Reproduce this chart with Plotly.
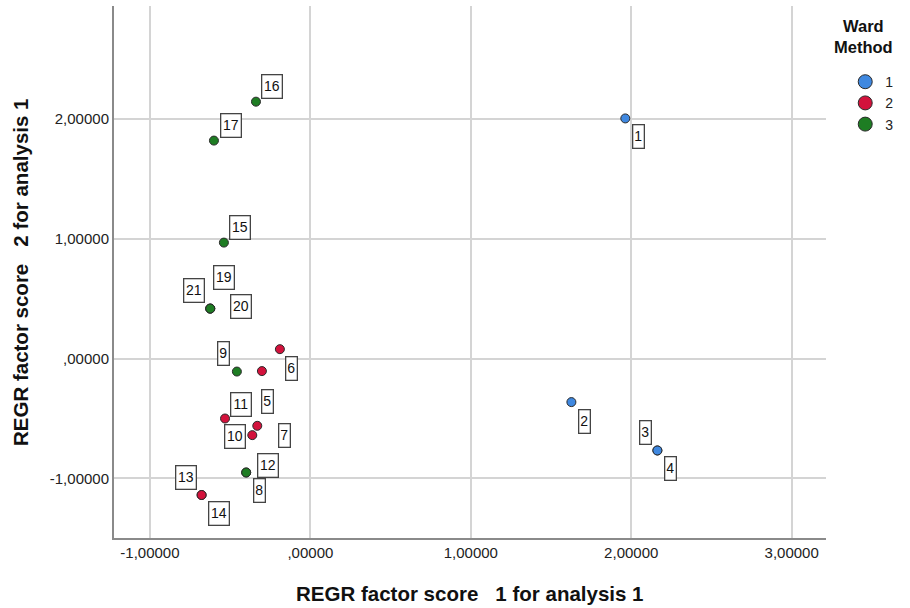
import plotly.graph_objects as go

# ---- data ----
case_ids = ["1", "2", "3", "4", "5", "6", "7", "8", "9", "10", "11",
            "12", "13", "14", "15", "16", "17", "19", "20", "21"]
score1 = [1.963, 1.627, 2.163, 2.163, -0.302, -0.190, -0.331, -0.400, -0.458, -0.362, -0.532,
          -0.400, -0.678, -0.678, -0.539, -0.339, -0.601, -0.624, -0.624, -0.624]
score2 = [2.006, -0.363, -0.767, -0.767, -0.104, 0.079, -0.561, -0.951, -0.108, -0.639, -0.500,
          -0.951, -1.139, -1.139, 0.969, 2.146, 1.821, 0.418, 0.418, 0.418]
cluster = [1, 1, 1, 1, 2, 2, 2, 3, 3, 2, 2,
           3, 2, 2, 3, 3, 3, 3, 3, 3]

cluster_names = ["1", "2", "3"]
tick_vals_x = [-1, 0, 1, 2, 3]
tick_text_x = ["-1,00000", ",00000", "1,00000", "2,00000", "3,00000"]
tick_vals_y = [-1, 0, 1, 2]
tick_text_y = ["-1,00000", ",00000", "1,00000", "2,00000"]
x_title = "REGR factor score\u00a0\u00a0\u00a01 for analysis 1"
y_title = "REGR factor score\u00a0\u00a0\u00a02 for analysis 1"
legend_title = "Ward<br>Method"

# ---- styles ----
FONT = "Liberation Sans, Arial, sans-serif"
colors = {1: "#3f88e0", 2: "#d3123c", 3: "#1e7d23"}
# pixel offsets of each case label box relative to its point (layout only)
label_offsets = {
    "1": (13, 18), "2": (13, 19), "3": (-12, -18), "4": (13, 18),
    "5": (6, 30), "6": (12, 19), "7": (27, 10), "8": (13, 18),
    "9": (-13, -18), "10": (-17, 1), "11": (16, -14), "12": (22, -7),
    "13": (-16, -18), "14": (17, 18), "15": (16, -15), "16": (16, -15),
    "17": (17, -15), "19": (14, -31), "20": (31, -2), "21": (-16, -18),
}

fig = go.Figure()

for c in [1, 2, 3]:
    xs = [x for x, k in zip(score1, cluster) if k == c]
    ys = [y for y, k in zip(score2, cluster) if k == c]
    fig.add_trace(go.Scatter(
        x=xs, y=ys, mode="markers", showlegend=False,
        marker=dict(size=9, color=colors[c], line=dict(color="#2a2a2a", width=1)),
        hoverinfo="x+y",
    ))

# legend entries (bigger symbols, as in the reference)
for c, name in zip([1, 2, 3], cluster_names):
    fig.add_trace(go.Scatter(
        x=[None], y=[None], mode="markers", name=name, showlegend=True,
        marker=dict(size=14, color=colors[c], line=dict(color="#2a2a2a", width=1)),
    ))

annotations = []
for cid, x, y in zip(case_ids, score1, score2):
    dx, dy = label_offsets[cid]
    annotations.append(dict(
        x=x, y=y, xref="x", yref="y", text=cid, showarrow=False,
        xshift=dx, yshift=-dy,
        font=dict(family=FONT, size=14, color="#111"),
        bgcolor="white", bordercolor="#444444", borderwidth=1.3, borderpad=1,
        width=8 if len(cid) == 1 else 17, height=20,
    ))

# legend title
annotations.append(dict(
    x=1.0523, y=0.9825, xref="paper", yref="paper", xanchor="center", yanchor="top",
    text="<b>" + legend_title.replace("<br>", "</b><br><b>") + "</b>",
    showarrow=False, align="center",
    font=dict(family=FONT, size=16.5, color="#111"),
))
# axis titles
annotations.append(dict(
    x=0.5, y=-0.1034, xref="paper", yref="paper", xanchor="center", yanchor="middle",
    text="<b>" + x_title + "</b>", showarrow=False,
    font=dict(family=FONT, size=20.5, color="#111"),
))
annotations.append(dict(
    x=-0.132, y=0.5, xref="paper", yref="paper", xanchor="center", yanchor="middle",
    text="<b>" + y_title + "</b>", showarrow=False, textangle=-90,
    font=dict(family=FONT, size=20.5, color="#111"),
))

fig.update_layout(
    width=910, height=608,
    margin=dict(l=114, r=84, t=6, b=70),
    plot_bgcolor="white", paper_bgcolor="white",
    font=dict(family=FONT, color="#222"),
    annotations=annotations,
    legend=dict(
        x=1.027, y=0.887, xanchor="left", yanchor="top",
        font=dict(family=FONT, size=14, color="#222"),
        itemwidth=30, tracegroupgap=0,
        bgcolor="rgba(0,0,0,0)",
    ),
    xaxis=dict(
        range=[-1.224, 3.214], tickvals=tick_vals_x, ticktext=tick_text_x,
        showgrid=True, gridcolor="#d4d4d4", gridwidth=1.5,
        zeroline=False, showline=True, linecolor="#8a8a8a", linewidth=2,
        ticks="", tickfont=dict(family=FONT, size=15, color="#222"),
        automargin=False,
    ),
    yaxis=dict(
        range=[-1.498, 2.945], tickvals=tick_vals_y, ticktext=tick_text_y,
        showgrid=True, gridcolor="#d4d4d4", gridwidth=1.5,
        zeroline=False, showline=True, linecolor="#8a8a8a", linewidth=2,
        ticks="", tickfont=dict(family=FONT, size=15, color="#222"),
        automargin=False,
    ),
)

fig.write_html(
    "out.html",
    config={"displayModeBar": False},
    post_script="document.body.style.margin='0px';document.body.style.padding='0px';",
)
